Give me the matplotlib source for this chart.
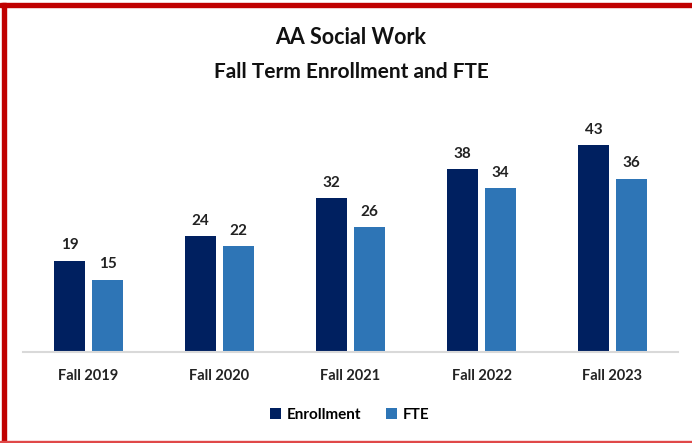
"""AA Social Work fall term enrollment and FTE bar chart."""

import matplotlib

matplotlib.use("Agg")
import matplotlib.pyplot as plt
import numpy as np
from matplotlib.patches import Rectangle

TERMS = ["Fall 2019", "Fall 2020", "Fall 2021", "Fall 2022", "Fall 2023"]
ENROLLMENT = [19, 24, 32, 38, 43]
FTE = [15, 22, 26, 34, 36]

NAVY = "#002060"
BLUE = "#2E75B6"
RED = "#C00000"

plt.rcParams["font.family"] = ["Lato", "DejaVu Sans"]

W, H = 692, 443
fig = plt.figure(figsize=(W / 100, H / 100), dpi=100)
fig.patch.set_facecolor("white")

# red frame: thick top and left, thin bottom
fig.patches.append(Rectangle((0, 1 - 7 / H), 1, 4 / H, transform=fig.transFigure, color=RED, zorder=10))
fig.patches.append(Rectangle((2 / W, 0), 4 / W, 1 - 3 / H, transform=fig.transFigure, color=RED, zorder=10))
fig.patches.append(Rectangle((0, 0), 1, 2 / H, transform=fig.transFigure, color="#E04848", zorder=10))

ax = fig.add_axes([23 / W, 91 / H, 655 / W, 231 / H])
x = np.arange(len(TERMS))
width = 0.23
offset = 0.145
b1 = ax.bar(x - offset, ENROLLMENT, width, color=NAVY, label="Enrollment")
b2 = ax.bar(x + offset, FTE, width, color=BLUE, label="FTE")

for bars in (b1, b2):
    for bar in bars:
        ax.annotate(f"{bar.get_height():.0f}", (bar.get_x() + bar.get_width() / 2, bar.get_height()),
                    xytext=(0, 6), textcoords="offset points", ha="center", va="bottom",
                    fontsize=11, fontweight="bold", color="#222222")

ax.set_xlim(-0.5, len(TERMS) - 0.5)
ax.set_ylim(0, 48)
ax.set_xticks(x, TERMS, fontsize=10.5, fontweight="bold", color="#222222")
ax.tick_params(axis="x", length=0, pad=12)
ax.set_yticks([])
for side in ("top", "right", "left"):
    ax.spines[side].set_visible(False)
ax.spines["bottom"].set_color("#D9D9D9")
ax.spines["bottom"].set_linewidth(1.5)

fig.text(351 / W, 1 - 38 / H, "AA Social Work", ha="center", va="center",
         fontsize=15.5, fontweight="bold", color="#111111")
fig.text(351 / W, 1 - 72 / H, "Fall Term Enrollment and FTE", ha="center", va="center",
         fontsize=15, fontweight="bold", color="#111111")

fig.legend(handles=[b1, b2], loc="center", bbox_to_anchor=(350 / W, 1 - 415 / H), ncol=2,
           frameon=False, prop={"size": 11, "weight": "bold"}, handlelength=0.7,
           handleheight=0.7, handletextpad=0.4, columnspacing=1.6)

fig.savefig("out.png", dpi=100, facecolor="white")
